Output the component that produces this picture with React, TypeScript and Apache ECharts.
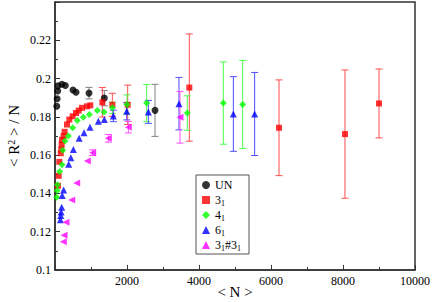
import React, { useEffect, useRef } from "react";
import * as echarts from "echarts";

// ---- data: [N, <R^2>/N] ----
const unPoints = [
  [50, 0.1855], [60, 0.1895], [75, 0.1935], [85, 0.1962], [194, 0.197], [287, 0.1964],
  [500, 0.194], [583, 0.1929], [944, 0.1924], [1370, 0.1898], [2778, 0.1834],
];
const unErrors = [[944, 0.1924, 0.003], [1370, 0.1898, 0.004], [2778, 0.1834, 0.0136]];

const k31Points = [
  [83, 0.144], [102, 0.1492], [120, 0.1565], [160, 0.161], [175, 0.163], [185, 0.1656],
  [194, 0.168], [240, 0.17], [268, 0.1722], [333, 0.176], [398, 0.1786], [491, 0.1803],
  [583, 0.182], [658, 0.1833], [750, 0.1847], [889, 0.1855], [981, 0.186], [1315, 0.1876],
  [1593, 0.1863], [2019, 0.1863], [3731, 0.1953], [6222, 0.1743], [8055, 0.171], [9000, 0.187],
];
const k31Errors = [
  [1315, 0.1876, 0.0077], [1593, 0.1863, 0.006], [2019, 0.1863, 0.0103], [3731, 0.1953, 0.028],
  [6222, 0.1743, 0.025], [8055, 0.171, 0.0335], [9000, 0.187, 0.018],
];

const k41Points = [
  [50, 0.138], [60, 0.1415], [70, 0.1445], [130, 0.1515], [194, 0.155], [213, 0.1625],
  [278, 0.1674], [370, 0.17], [491, 0.1743], [620, 0.1781], [787, 0.1798], [954, 0.1812],
  [1176, 0.1833], [1361, 0.1826], [1593, 0.1847], [2000, 0.1865], [2546, 0.1872],
  [3676, 0.182], [4676, 0.1872], [5213, 0.1865],
];
const k41Errors = [
  [1593, 0.1847, 0.003], [2000, 0.1865, 0.005], [2546, 0.1872, 0.0097], [3676, 0.182, 0.009],
  [4676, 0.1872, 0.0215], [5213, 0.1865, 0.023],
];

const k61Points = [
  [150, 0.1263], [160, 0.1285], [170, 0.1303], [186, 0.1328], [200, 0.1389], [240, 0.1418],
  [380, 0.1553], [440, 0.1587], [510, 0.163], [670, 0.1688], [806, 0.1717], [972, 0.1746],
  [1204, 0.1777], [1370, 0.1786], [1620, 0.1805], [1991, 0.1829], [2593, 0.1826],
  [3444, 0.1869], [4954, 0.1815], [5546, 0.1815],
];
const k61Errors = [
  [1620, 0.1805, 0.003], [1991, 0.1829, 0.0045], [2593, 0.1826, 0.006], [3444, 0.1869, 0.0137],
  [4954, 0.1815, 0.0195], [5546, 0.1815, 0.0217],
];

const k3131Points = [
  [231, 0.1147], [250, 0.1181], [305, 0.125], [463, 0.1366], [602, 0.1454], [898, 0.157],
  [1046, 0.1613], [1481, 0.1688], [2037, 0.1746], [3472, 0.1798],
];
const k3131Errors = [[1046, 0.1613, 0.0015], [1481, 0.1688, 0.002], [2037, 0.1746, 0.003], [3472, 0.1798, 0.0135]];

const seriesNames = ["UN", "3_1", "4_1", "6_1", "3_1#3_1"];
const legendLabels: Record<string, string> = {
  UN: "UN",
  "3_1": "3{sub|1}",
  "4_1": "4{sub|1}",
  "6_1": "6{sub|1}",
  "3_1#3_1": "3{sub|1}#3{sub|1}",
};
const xTicks = { min: 0, max: 10000, interval: 2000 };
const yTicks = { min: 0.1, max: 0.24, interval: 0.02 };

const FONT = '"Liberation Serif", "Times New Roman", serif';

function errorSeries(name: string, data: number[][], color: string) {
  return {
    name: name + "_err",
    type: "custom",
    z: 1,
    silent: true,
    data,
    renderItem: (params: any, api: any) => {
      const x = api.value(0);
      const y = api.value(1);
      const e = api.value(2);
      const top = api.coord([x, y + e]);
      const bot = api.coord([x, y - e]);
      const w = 3.5;
      const style = { stroke: color, lineWidth: 1 };
      return {
        type: "group",
        children: [
          { type: "line", shape: { x1: top[0], y1: top[1], x2: bot[0], y2: bot[1] }, style },
          { type: "line", shape: { x1: top[0] - w, y1: top[1], x2: top[0] + w, y2: top[1] }, style },
          { type: "line", shape: { x1: bot[0] - w, y1: bot[1], x2: bot[0] + w, y2: bot[1] }, style },
        ],
      };
    },
  };
}

export default function App() {
  const ref = useRef<HTMLDivElement>(null);
  useEffect(() => {
    const chart = echarts.init(ref.current!, null, { renderer: "svg" });
    const axisLine = { show: true, lineStyle: { color: "#333", width: 1.5 } };
    chart.setOption({
      animation: false,
      grid: {
        left: 55, right: 21, top: 2, bottom: 32,
        outerBoundsMode: "none",
        containLabel: false,
        show: true, borderColor: "#333", borderWidth: 1.5,
      },
      legend: {
        data: seriesNames,
        orient: "vertical",
        left: 196,
        top: 175,
        itemWidth: 8,
        itemHeight: 8,
        itemGap: 1,
        padding: [3, 8, 2, 6],
        borderColor: "#555",
        borderWidth: 1,
        backgroundColor: "#fff",
        formatter: (n: string) => legendLabels[n],
        textStyle: {
          fontFamily: FONT,
          fontSize: 12,
          color: "#000",
          lineHeight: 14,
          rich: { sub: { fontFamily: FONT, fontSize: 8, verticalAlign: "bottom", lineHeight: 14, padding: [4, 0, 0, 0] } },
        },
      },
      xAxis: {
        type: "value",
        ...xTicks,
        axisLine,
        axisTick: { inside: true, length: 5, lineStyle: { color: "#333" } },
        minorTick: { show: true, splitNumber: 2, length: 3, lineStyle: { color: "#333" } },
        splitLine: { show: false },
        axisLabel: {
          fontFamily: FONT,
          fontSize: 12,
          color: "#000",
          margin: 5,
          formatter: (v: number) => (v === 0 ? "" : String(v)),
        },
        name: "< N >",
        nameLocation: "middle",
        nameGap: 14,
        nameMoveOverlap: false,
        nameTextStyle: { fontFamily: FONT, fontSize: 15, color: "#000" },
      },
      yAxis: {
        type: "value",
        ...yTicks,
        axisLine,
        axisTick: { inside: true, length: 5, lineStyle: { color: "#333" } },
        minorTick: { show: true, splitNumber: 2, length: 3, lineStyle: { color: "#333" } },
        splitLine: { show: false },
        axisLabel: {
          fontFamily: FONT,
          fontSize: 12,
          color: "#000",
          margin: 4,
          formatter: (v: number) => (Math.abs(v - 0.24) < 1e-9 ? "" : String(+v.toFixed(2))),
        },
        name: "< R{sup|2} > / N",
        nameLocation: "middle",
        nameGap: 33,
        nameMoveOverlap: false,
        nameTextStyle: {
          fontFamily: FONT,
          fontSize: 15,
          color: "#000",
          rich: { sup: { fontFamily: FONT, fontSize: 10, verticalAlign: "top", padding: [0, 0, 6, 0] } },
        },
      },
      series: [
        errorSeries("UN", unErrors, "#808080"),
        errorSeries("3_1", k31Errors, "#ff4d4d"),
        errorSeries("4_1", k41Errors, "#4dff4d"),
        errorSeries("6_1", k61Errors, "#4d4dff"),
        errorSeries("3_1#3_1", k3131Errors, "#ff4dff"),
        { name: "UN", type: "scatter", data: unPoints, symbol: "circle", symbolSize: 7, itemStyle: { color: "#000" }, z: 3 },
        { name: "3_1", type: "scatter", data: k31Points, symbol: "rect", symbolSize: 6, itemStyle: { color: "#ff0000" }, z: 3 },
        { name: "4_1", type: "scatter", data: k41Points, symbol: "diamond", symbolSize: 7, itemStyle: { color: "#00ff00" }, z: 3 },
        { name: "6_1", type: "scatter", data: k61Points, symbol: "triangle", symbolSize: 7, itemStyle: { color: "#0000ff" }, z: 3 },
        { name: "3_1#3_1", type: "scatter", data: k3131Points, symbol: "triangle", symbolRotate: 90, symbolSize: 7, itemStyle: { color: "#ff00ff" }, z: 3 },
      ],
    });
    return () => chart.dispose();
  }, []);
  return <div ref={ref} style={{ width: 436, height: 302, position: "absolute", left: 0, top: 0 }} />;
}
